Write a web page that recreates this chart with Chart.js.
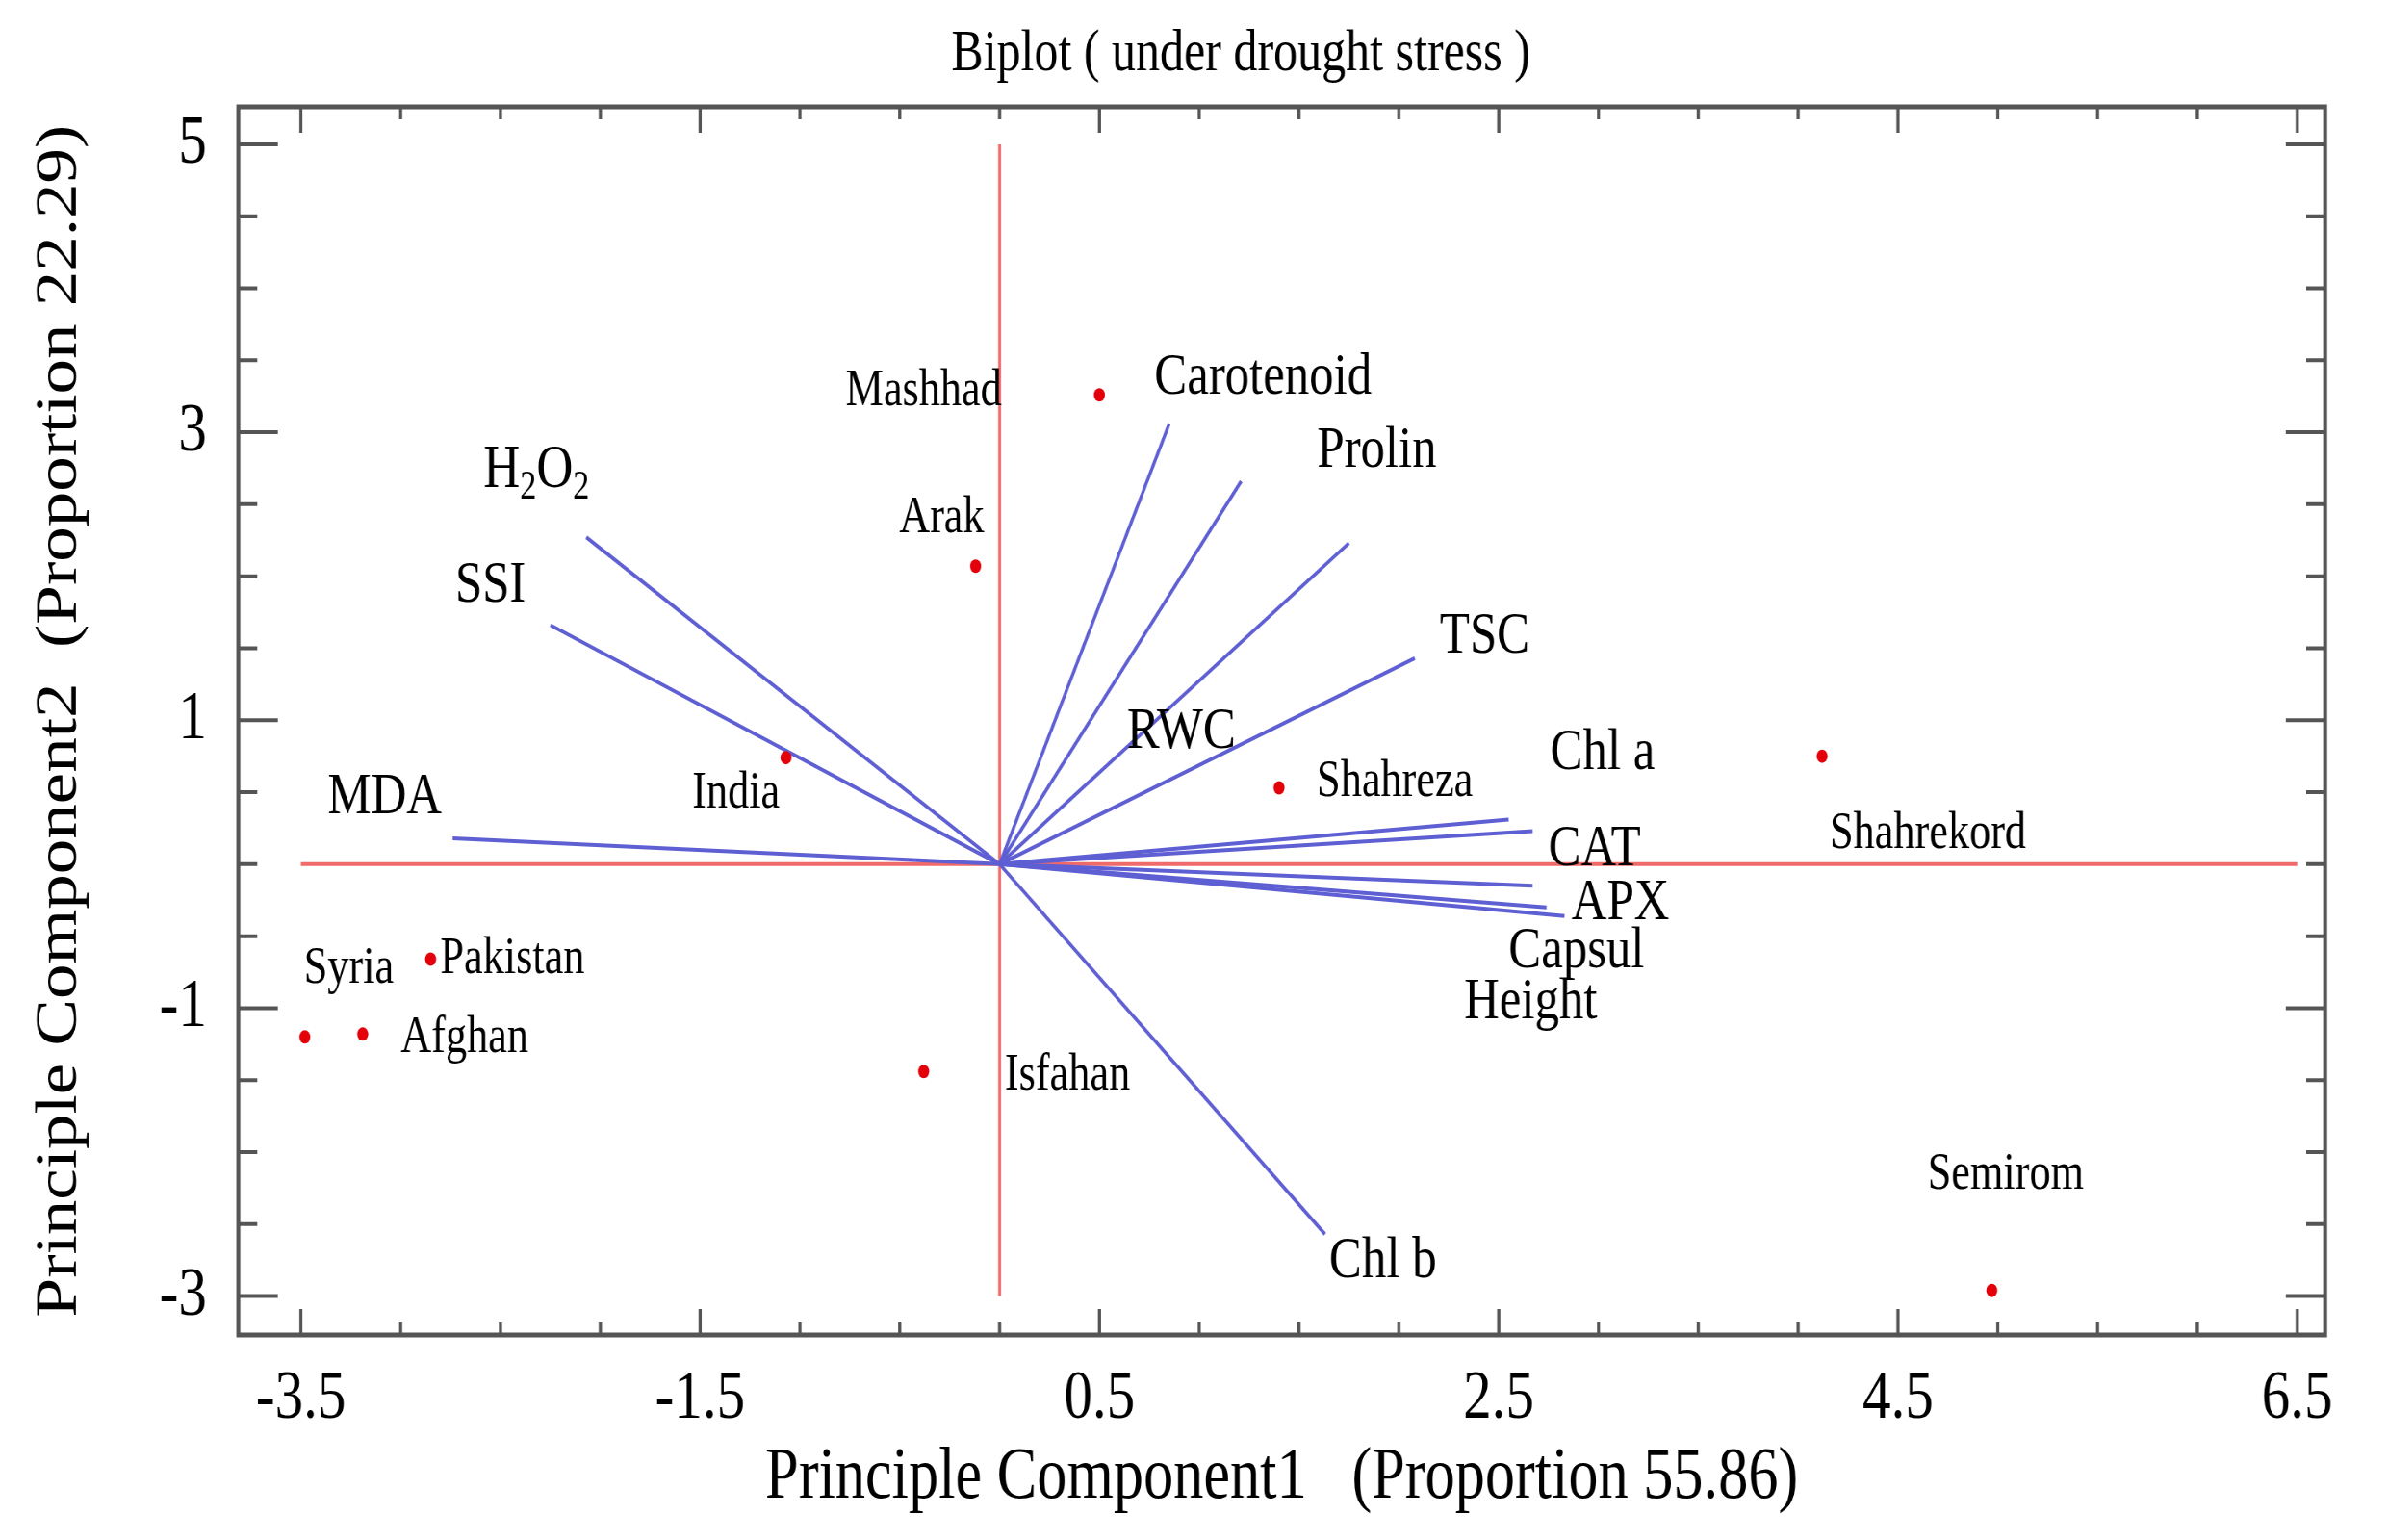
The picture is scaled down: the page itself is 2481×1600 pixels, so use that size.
<!DOCTYPE html>
<html>
<head>
<meta charset="utf-8">
<script src="https://cdn.jsdelivr.net/npm/chart.js@4.4.1/dist/chart.umd.min.js"></script>
<style>
  html, body { margin: 0; padding: 0; background: #fff; overflow: hidden; }
  /* the source figure is squeezed sideways, so the canvas is drawn wider and scaled down */
  #wrap { width: 3026px; height: 1600px; transform: scaleX(0.82); transform-origin: 0 0; }
</style>
</head>
<body>
<div id="wrap"><canvas id="biplot" width="3026" height="1600"></canvas></div>
<script>
// genotype scores
const genoNames = ['Mashhad', 'Arak', 'India', 'Shahreza', 'Shahrekord', 'Pakistan', 'Syria', 'Afghan', 'Isfahan', 'Semirom'];
const genoX = [0.50, -0.12, -1.07, 1.40, 4.12, -2.85, -3.48, -3.19, -0.38, 4.97];
const genoY = [3.26, 2.07, 0.74, 0.53, 0.75, -0.66, -1.20, -1.18, -1.44, -2.96];
const genoLabelX = [-0.38, -0.29, -1.32, 1.98, 4.65, -2.44, -3.26, -2.68, 0.34, 5.04];
const genoLabelY = [3.28, 2.40, 0.49, 0.57, 0.21, -0.66, -0.73, -1.21, -1.47, -2.16];

// trait loadings (vectors from the origin)
const varNames = ['H2O2', 'SSI', 'MDA', 'Carotenoid', 'Prolin', 'RWC', 'TSC', 'Chl a', 'CAT', 'APX', 'Capsul', 'Height', 'Chl b'];
const varX = [-2.07, -2.25, -2.74, 0.85, 1.21, 1.75, 2.08, 2.55, 2.67, 2.67, 2.83, 2.74, 1.63];
const varY = [2.27, 1.66, 0.18, 3.06, 2.66, 2.23, 1.43, 0.31, 0.23, -0.15, -0.36, -0.30, -2.57];
const varLabelX = [-2.32, -2.55, -3.08, 1.32, 1.89, 0.91, 2.43, 3.02, 2.98, 3.11, 2.89, 2.66, 1.92];
const varLabelY = [2.73, 1.93, 0.46, 3.38, 2.87, 0.92, 1.58, 0.77, 0.10, -0.27, -0.61, -0.96, -2.76];

// red cross through the origin
const crossX = [-3.5, 6.5];
const crossY = [5, -3];

// axes
const xTicks = [-3.5, -3, -2.5, -2, -1.5, -1, -0.5, 0, 0.5, 1, 1.5, 2, 2.5, 3, 3.5, 4, 4.5, 5, 5.5, 6, 6.5];
const yTicks = [-3, -2.5, -2, -1.5, -1, -0.5, 0, 0.5, 1, 1.5, 2, 2.5, 3, 3.5, 4, 4.5, 5];
const xTickLabels = ['-3.5', '-1.5', '0.5', '2.5', '4.5', '6.5'];
const yTickLabels = ['5', '3', '1', '-1', '-3'];

const FONT = 'Liberation Serif';
const INK = '#000';

var datasets = [];
datasets.push({
    label: 'genotypes',
    data: genoX.map((x, i) => ({ x: x, y: genoY[i] })),
    showLine: false,
    pointRadius: 7,
    pointBorderWidth: 0,
    pointBackgroundColor: '#e3000b'
});
varX.forEach((x, i) => {
    datasets.push({
        label: varNames[i],
        data: [{ x: 0, y: 0 }, { x: x, y: varY[i] }],
        showLine: true,
        borderColor: '#5f5fd4',
        borderWidth: 4,
        pointRadius: 0
    });
});
datasets.push({
    label: 'h0',
    data: crossX.map(x => ({ x: x, y: 0 })),
    showLine: true, borderColor: '#f06a6a', borderWidth: 4, pointRadius: 0
});
datasets.push({
    label: 'v0',
    data: crossY.map(y => ({ x: 0, y: y })),
    showLine: true, borderColor: '#f06a6a', borderWidth: 3.5, pointRadius: 0
});

function putText(ctx, text, px, py, size) {
    ctx.font = size + 'px "' + FONT + '"';
    ctx.textAlign = 'center';
    ctx.textBaseline = 'middle';
    ctx.fillText(text, px, py);
}

// H2O2 with subscripts
function putChem(ctx, px, py, size) {
    const big = size + 'px "' + FONT + '"';
    const small = Math.round(size * 0.65) + 'px "' + FONT + '"';
    const parts = [['H', big, 0], ['2', small, size * 0.28], ['O', big, 0], ['2', small, size * 0.28]];
    let total = 0;
    parts.forEach(p => { ctx.font = p[1]; total += ctx.measureText(p[0]).width; });
    let cx = px - total / 2;
    ctx.textAlign = 'left';
    ctx.textBaseline = 'middle';
    parts.forEach(p => {
        ctx.font = p[1];
        ctx.fillText(p[0], cx, py + p[2]);
        cx += ctx.measureText(p[0]).width;
    });
}

const decor = {
    id: 'decor',
    afterDraw(chart) {
        const ctx = chart.ctx;
        const a = chart.chartArea;
        const sx = chart.scales.x, sy = chart.scales.y;
        ctx.save();

        // inward tick marks on all four sides
        ctx.strokeStyle = '#555';
        ctx.lineWidth = 4;
        ctx.beginPath();
        xTicks.forEach(v => {
            const px = sx.getPixelForValue(v);
            const len = xTickLabels.includes(String(v)) ? 27 : 13;
            ctx.moveTo(px, a.bottom); ctx.lineTo(px, a.bottom - len);
            ctx.moveTo(px, a.top); ctx.lineTo(px, a.top + len);
        });
        yTicks.forEach(v => {
            const py = sy.getPixelForValue(v);
            const len = yTickLabels.includes(String(v)) ? 50 : 24;
            ctx.moveTo(a.left, py); ctx.lineTo(a.left + len, py);
            ctx.moveTo(a.right, py); ctx.lineTo(a.right - len, py);
        });
        ctx.stroke();

        ctx.lineWidth = 5;
        ctx.strokeRect(a.left, a.top, a.right - a.left, a.bottom - a.top);

        // labels
        ctx.fillStyle = INK;
        genoNames.forEach((n, i) => {
            putText(ctx, n, sx.getPixelForValue(genoLabelX[i]), sy.getPixelForValue(genoLabelY[i]), 54);
        });
        varNames.forEach((n, i) => {
            const px = sx.getPixelForValue(varLabelX[i]);
            const py = sy.getPixelForValue(varLabelY[i]);
            if (n === 'H2O2') putChem(ctx, px, py, 64);
            else putText(ctx, n, px, py, 62);
        });

        putText(ctx, 'Biplot ( under drought stress )', 1572, 57, 61);
        ctx.restore();
    }
};

new Chart(document.getElementById('biplot'), {
    type: 'scatter',
    data: { datasets: datasets },
    options: {
        responsive: false,
        devicePixelRatio: 1,
        animation: false,
        layout: { padding: { top: 111, right: 80, bottom: 0, left: 0 } },
        plugins: {
            legend: { display: false },
            tooltip: { enabled: false },
            title: { display: false }
        },
        scales: {
            x: {
                type: 'linear',
                min: -3.813,
                max: 6.64,
                afterBuildTicks: s => { s.ticks = xTicks.map(v => ({ value: v })); },
                afterFit: s => { s.height = 213; s.paddingLeft = 0; s.paddingRight = 0; },
                grid: { display: false },
                border: { display: false },
                ticks: {
                    autoSkip: false,
                    maxRotation: 0,
                    padding: 16,
                    color: INK,
                    font: { family: FONT, size: 72 },
                    callback: v => xTickLabels.includes(String(v)) ? String(v) : ''
                },
                title: {
                    display: true,
                    text: 'Principle Component1   (Proportion 55.86)',
                    color: INK,
                    font: { family: FONT, size: 76 },
                    padding: { top: 0, bottom: 18 }
                }
            },
            y: {
                type: 'linear',
                min: -3.27,
                max: 5.26,
                afterBuildTicks: s => { s.ticks = yTicks.map(v => ({ value: v })); },
                afterFit: s => { s.width = 302; s.paddingTop = 0; s.paddingBottom = 0; },
                grid: { display: false },
                border: { display: false },
                ticks: {
                    autoSkip: false,
                    padding: 32,
                    color: INK,
                    font: { family: FONT, size: 72 },
                    callback: v => yTickLabels.includes(String(v)) ? String(v) : ''
                },
                title: {
                    display: true,
                    text: 'Principle Component2  (Proportion 22.29)',
                    color: INK,
                    font: { family: FONT, size: 73 },
                    padding: { top: 33, bottom: 0 }
                }
            }
        }
    },
    plugins: [decor]
});
</script>
</body>
</html>
